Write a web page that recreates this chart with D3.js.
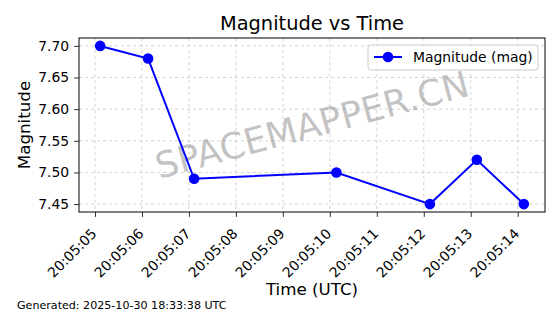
<!DOCTYPE html>
<html><head><meta charset="utf-8">
<script src="https://cdn.jsdelivr.net/npm/d3@7"></script>
<style>body{margin:0;background:#fff}svg{display:block;font-family:"DejaVu Sans",sans-serif}</style>
</head><body>
<script>
const times = ["2025-10-30T20:05:05.110Z","2025-10-30T20:05:06.130Z","2025-10-30T20:05:07.110Z","2025-10-30T20:05:10.140Z","2025-10-30T20:05:12.130Z","2025-10-30T20:05:13.130Z","2025-10-30T20:05:14.130Z"];
const magnitudes = [7.70, 7.68, 7.49, 7.50, 7.45, 7.52, 7.45];
const yTicks = [7.45, 7.50, 7.55, 7.60, 7.65, 7.70];
const titleText = "Magnitude vs Time";
const xLabel = "Time (UTC)";
const yLabel = "Magnitude";
const legendLabel = "Magnitude (mag)";
const watermark = "SPACEMAPPER.CN";
const footer = "Generated: 2025-10-30 18:33:38 UTC";

const W = 560, H = 314;
const L = 79, R = 545, T = 38, B = 212;
const data = times.map((t, i) => ({t: new Date(t), v: magnitudes[i]}));
const svg = d3.select("body").append("svg").attr("width", W).attr("height", H);

const tExt = d3.extent(data, d => +d.t), tPad = (tExt[1]-tExt[0])*0.05;
const x = d3.scaleUtc().domain([new Date(tExt[0]-tPad), new Date(tExt[1]+tPad)]).range([L, R]);
const vExt = d3.extent(magnitudes), vPad = (vExt[1]-vExt[0])*0.05;
const y = d3.scaleLinear().domain([vExt[0]-vPad, vExt[1]+vPad]).range([B, T]);
const xTicks = x.ticks(d3.utcSecond.every(1));

// grid
const g = svg.append("g");
g.selectAll(".gx").data(xTicks).join("line").attr("x1", d=>x(d)).attr("x2", d=>x(d)).attr("y1", T).attr("y2", B)
 .attr("stroke", "#b0b0b0").attr("stroke-opacity", 0.7).attr("stroke-width", 0.8).attr("stroke-dasharray", "3,3");
g.selectAll(".gy").data(yTicks).join("line").attr("x1", L).attr("x2", R).attr("y1", d=>y(d)).attr("y2", d=>y(d))
 .attr("stroke", "#b0b0b0").attr("stroke-opacity", 0.7).attr("stroke-width", 0.8).attr("stroke-dasharray", "3,3");

// watermark
svg.append("text").attr("transform", `translate(${(L+R)/2},${(T+B)/2}) rotate(-15)`)
 .attr("text-anchor", "middle").attr("dominant-baseline", "central")
 .attr("font-size", 36).attr("fill", "#808080").attr("fill-opacity", 0.48).text(watermark);

// line and markers
svg.append("path").datum(data).attr("fill", "none").attr("stroke", "#0000ff").attr("stroke-width", 2)
 .attr("d", d3.line().x(d=>x(d.t)).y(d=>y(d.v)));
svg.selectAll(".pt").data(data).join("circle").attr("cx", d=>x(d.t)).attr("cy", d=>y(d.v)).attr("r", 5.3).attr("fill", "#0000ff");

// axes
const xAxis = svg.append("g").attr("transform", `translate(0,${B})`)
 .call(d3.axisBottom(x).tickValues(xTicks).tickFormat(d3.utcFormat("%H:%M:%S")).tickSize(4.9).tickSizeOuter(0));
xAxis.select(".domain").remove();
xAxis.selectAll("text").attr("font-size", 13.9).attr("font-family", "DejaVu Sans").attr("fill", "#000")
 .attr("text-anchor", "end").attr("dy", null).attr("y", 0).attr("x", 0)
 .attr("transform", "translate(2,22.5) rotate(-45)");
xAxis.selectAll("line").attr("stroke", "#000").attr("stroke-width", 0.8);

const yAxis = svg.append("g").attr("transform", `translate(${L},0)`)
 .call(d3.axisLeft(y).tickValues(yTicks).tickFormat(d3.format(".2f")).tickSize(4.9).tickPadding(4.9));
yAxis.select(".domain").remove();
yAxis.selectAll("text").attr("font-size", 13.9).attr("font-family", "DejaVu Sans").attr("fill", "#000");
yAxis.selectAll("line").attr("stroke", "#000").attr("stroke-width", 0.8);

svg.append("rect").attr("x", L).attr("y", T).attr("width", R-L).attr("height", B-T)
 .attr("fill", "none").attr("stroke", "#000").attr("stroke-width", 1);

// title and labels
svg.append("text").attr("x", (L+R)/2).attr("y", 30).attr("text-anchor", "middle").attr("font-size", 19.4).text(titleText);
svg.append("text").attr("x", (L+R)/2).attr("y", 295).attr("text-anchor", "middle").attr("font-size", 16.7).text(xLabel);
svg.append("text").attr("transform", `translate(30,${(T+B)/2}) rotate(-90)`).attr("text-anchor", "middle").attr("font-size", 16.7).text(yLabel);
svg.append("text").attr("x", 17).attr("y", 309).attr("font-size", 11.1).text(footer);

// legend
const lg = svg.append("g");
lg.append("rect").attr("x", 368).attr("y", 45).attr("width", 170).attr("height", 25).attr("rx", 3)
 .attr("fill", "#fff").attr("fill-opacity", 0.8).attr("stroke", "#cccccc").attr("stroke-width", 1);
lg.append("line").attr("x1", 374).attr("x2", 402).attr("y1", 57).attr("y2", 57).attr("stroke", "#0000ff").attr("stroke-width", 2);
lg.append("circle").attr("cx", 388).attr("cy", 57).attr("r", 5.3).attr("fill", "#0000ff");
lg.append("text").attr("x", 413).attr("y", 62).attr("font-size", 13.9).text(legendLabel);
</script>
</body></html>
